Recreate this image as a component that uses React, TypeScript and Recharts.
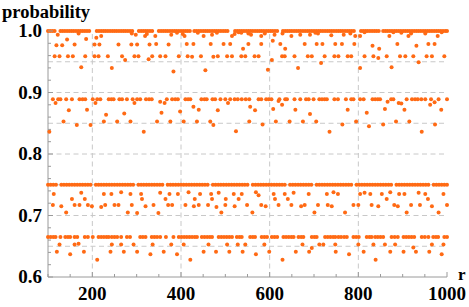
import { ScatterChart, Scatter, XAxis, YAxis, ReferenceLine } from 'recharts';

const ORANGE = '#ff6a14';
const AXIS = '#9a9a9a';
const GRID = '#c8c8c8';
const FONT = '"Liberation Serif", "Times New Roman", serif';

// r values of the dense rows
const rowOne = [100, 105, 110, 115, 128, 133, 138, 143, 148, 153, 158, 163, 168, 173, 178, 183, 188, 193, 210, 215, 220, 225, 230, 235, 240, 245, 250, 255, 260, 265, 270, 275, 280, 285, 290, 305, 310, 315, 320, 325, 330, 335, 350, 355, 360, 365, 370, 375, 380, 385, 390, 395, 400, 405, 410, 415, 420, 430, 435, 440, 445, 450, 455, 460, 465, 470, 475, 480, 485, 490, 495, 500, 505, 522, 527, 532, 537, 542, 547, 552, 557, 562, 567, 572, 577, 582, 587, 592, 597, 602, 607, 612, 617, 630, 635, 640, 645, 650, 655, 660, 665, 670, 675, 680, 685, 690, 695, 700, 705, 710, 715, 720, 725, 730, 735, 740, 745, 750, 755, 760, 765, 770, 775, 780, 785, 790, 806, 811, 816, 821, 826, 831, 836, 841, 846, 856, 861, 866, 871, 876, 881, 886, 891, 896, 901, 906, 911, 916, 921, 926, 931, 936, 941, 946, 951, 956, 961, 966, 971, 976, 981, 986, 991, 996, 1000];

const rowEightNinths = [111, 123, 128, 141, 154, 171, 178, 184, 201, 211, 218, 237, 243, 248, 261, 267, 278, 291, 301, 308, 321, 328, 334, 368, 380, 387, 393, 410, 416, 421, 446, 453, 458, 471, 477, 489, 500, 511, 521, 528, 537, 546, 554, 575, 581, 592, 598, 604, 622, 635, 639, 656, 669, 682, 688, 699, 712, 718, 724, 729, 746, 754, 772, 784, 789, 804, 812, 832, 838, 844, 849, 874, 879, 909, 921, 928, 934, 942, 951, 964, 981, 1000];

const rowThreeQuarters = [100, 106, 112, 118, 130, 136, 142, 148, 154, 160, 166, 172, 178, 184, 190, 196, 208, 214, 220, 226, 232, 238, 244, 250, 256, 262, 268, 274, 280, 286, 292, 304, 310, 316, 322, 328, 334, 340, 346, 352, 358, 370, 376, 382, 388, 394, 400, 406, 412, 418, 424, 430, 436, 442, 448, 454, 460, 472, 478, 484, 490, 496, 502, 508, 514, 520, 526, 532, 538, 544, 550, 562, 568, 574, 580, 586, 592, 598, 604, 610, 616, 622, 628, 634, 646, 652, 658, 664, 670, 676, 682, 688, 694, 706, 712, 718, 724, 730, 736, 742, 748, 754, 760, 766, 772, 778, 784, 796, 802, 808, 814, 820, 826, 832, 838, 844, 850, 856, 862, 868, 874, 886, 892, 898, 904, 910, 916, 922, 928, 934, 940, 946, 952, 958, 970, 976, 982, 988, 994, 1000];

const rowTwoThirds = [100, 106, 112, 117, 128, 139, 145, 150, 160, 166, 183, 190, 201, 214, 220, 226, 232, 237, 244, 250, 256, 265, 278, 285, 308, 314, 320, 334, 340, 346, 353, 366, 383, 395, 401, 407, 413, 419, 425, 431, 436, 447, 453, 459, 465, 470, 485, 491, 497, 503, 509, 515, 526, 532, 537, 556, 562, 567, 582, 588, 594, 605, 611, 617, 631, 637, 643, 649, 654, 665, 671, 676, 695, 701, 706, 725, 731, 737, 743, 748, 755, 761, 768, 774, 789, 795, 801, 819, 825, 830, 838, 844, 850, 856, 875, 882, 889, 902, 908, 914, 920, 926, 943, 950, 958, 969, 975, 980, 994, 1000];

// scattered points [r, probability]
const bandOne: [number, number][] = [
  [122, 0.994], [169, 0.996], [209, 0.989], [220, 0.992], [289, 0.996], [298, 0.994], [319, 0.992], [323, 0.995], [342, 0.992], [378, 0.994], [391, 0.997], [404, 0.995], [408, 0.992], [438, 0.997], [451, 0.992], [470, 0.994], [481, 0.997], [515, 0.992], [521, 0.995], [530, 0.998], [536, 0.997],
  [552, 0.996], [558, 0.994], [581, 0.992], [589, 0.996], [611, 0.994], [629, 0.996], [649, 0.992], [669, 0.994], [691, 0.994], [703, 0.997], [709, 0.996], [739, 0.993], [767, 0.994], [782, 0.996], [793, 0.992], [804, 0.992], [814, 0.998], [870, 0.992], [879, 0.998], [897, 0.997], [913, 0.992], [919, 0.996], [951, 0.996], [979, 0.992], [988, 0.998],
  [119, 0.977], [132, 0.977], [143, 0.986], [160, 0.978], [186, 0.987], [205, 0.978], [216, 0.978], [259, 0.978], [288, 0.978], [301, 0.978], [329, 0.978], [344, 0.979], [372, 0.978], [413, 0.979], [428, 0.979], [467, 0.979], [496, 0.979], [511, 0.979], [540, 0.971], [552, 0.979],
  [581, 0.979], [607, 0.984], [624, 0.979], [635, 0.971], [679, 0.979], [706, 0.979], [719, 0.979], [748, 0.979], [763, 0.979], [791, 0.979], [832, 0.976], [847, 0.971], [888, 0.979], [931, 0.976], [958, 0.979], [972, 0.979],
  [115, 0.959], [126, 0.959], [145, 0.959], [156, 0.959], [184, 0.959], [205, 0.959], [214, 0.959], [235, 0.959], [267, 0.959], [274, 0.953], [295, 0.959], [304, 0.959], [327, 0.954], [335, 0.959], [353, 0.959], [365, 0.959], [395, 0.959], [415, 0.959], [425, 0.958], [445, 0.959], [473, 0.958], [483, 0.959], [504, 0.959], [515, 0.959], [536, 0.959], [545, 0.959],
  [566, 0.959], [575, 0.959], [605, 0.953], [628, 0.959], [634, 0.959], [656, 0.959], [686, 0.959], [695, 0.959], [724, 0.959], [746, 0.959], [755, 0.959], [776, 0.959], [784, 0.959], [814, 0.959], [834, 0.959], [845, 0.956], [864, 0.959], [894, 0.959], [906, 0.959], [924, 0.959], [936, 0.949], [954, 0.959], [966, 0.959], [994, 0.959],
  [175, 0.941], [244, 0.94], [383, 0.934], [455, 0.936], [596, 0.937], [664, 0.94], [716, 0.948], [804, 0.94], [875, 0.941],
];

const bandTwo: [number, number][] = [
  [117, 0.883], [207, 0.883], [295, 0.883], [353, 0.885], [363, 0.883], [506, 0.883], [556, 0.877], [620, 0.886], [866, 0.885], [891, 0.883], [897, 0.882], [962, 0.88], [972, 0.884],
  [147, 0.871], [188, 0.872], [231, 0.864], [272, 0.866], [356, 0.867], [398, 0.869], [428, 0.877], [440, 0.872], [483, 0.871], [567, 0.871], [608, 0.873], [628, 0.88], [658, 0.872], [691, 0.865], [776, 0.872], [819, 0.867], [860, 0.873], [904, 0.872], [987, 0.872],
  [135, 0.853], [226, 0.853], [256, 0.853], [286, 0.853], [346, 0.853], [376, 0.853], [406, 0.853], [436, 0.853], [466, 0.853], [554, 0.853], [614, 0.853], [645, 0.853], [675, 0.853], [705, 0.853], [795, 0.853], [885, 0.853], [915, 0.853],
  [165, 0.847], [196, 0.847], [473, 0.847], [584, 0.848], [764, 0.848], [824, 0.845], [856, 0.848], [973, 0.848],
  [103, 0.836], [316, 0.836], [524, 0.837], [735, 0.836], [943, 0.836],
];

const bandThree: [number, number][] = [
  [113, 0.735], [175, 0.737], [226, 0.735], [243, 0.735], [265, 0.738], [286, 0.735], [310, 0.735], [353, 0.737], [374, 0.735], [393, 0.735], [417, 0.738], [443, 0.735], [468, 0.735], [485, 0.737], [519, 0.735], [537, 0.735], [569, 0.738], [575, 0.733], [609, 0.735], [634, 0.735], [654, 0.737], [688, 0.735], [729, 0.735], [744, 0.738], [754, 0.735], [804, 0.735], [814, 0.737], [827, 0.735], [853, 0.735], [872, 0.738], [892, 0.735], [904, 0.735], [936, 0.737], [951, 0.735], [992, 0.735],
  [154, 0.727], [183, 0.727], [312, 0.727], [365, 0.727], [431, 0.727], [470, 0.727], [501, 0.727], [530, 0.727], [612, 0.727], [641, 0.727], [864, 0.727], [957, 0.727],
  [111, 0.717], [130, 0.715], [160, 0.717], [171, 0.717], [190, 0.717], [199, 0.715], [220, 0.714], [229, 0.717], [250, 0.717], [259, 0.717], [289, 0.717], [320, 0.715], [338, 0.717], [371, 0.717], [380, 0.717], [410, 0.717], [429, 0.715], [440, 0.717], [461, 0.717], [480, 0.714], [500, 0.717], [521, 0.715], [549, 0.717], [581, 0.717], [591, 0.715], [620, 0.717], [649, 0.717], [671, 0.715], [679, 0.717], [709, 0.717], [731, 0.717], [740, 0.715], [789, 0.717], [800, 0.717], [830, 0.717], [845, 0.715], [881, 0.717], [889, 0.715], [919, 0.717], [939, 0.717], [966, 0.715], [1000, 0.717],
  [141, 0.705], [280, 0.705], [301, 0.704], [349, 0.704], [491, 0.705], [561, 0.705], [701, 0.705], [770, 0.705], [909, 0.705], [981, 0.705],
];

const bandFour: [number, number][] = [
  [126, 0.653], [160, 0.653], [169, 0.654], [244, 0.653], [265, 0.653], [293, 0.653], [336, 0.653], [378, 0.653], [406, 0.653], [462, 0.653], [504, 0.653], [528, 0.653], [545, 0.653], [588, 0.653], [674, 0.653], [712, 0.653], [721, 0.653], [748, 0.653], [800, 0.653], [834, 0.653], [860, 0.653], [883, 0.653], [924, 0.648], [966, 0.653], [992, 0.653],
  [120, 0.641], [181, 0.641], [241, 0.641], [271, 0.641], [301, 0.641], [361, 0.641], [451, 0.641], [479, 0.641], [509, 0.641], [539, 0.641], [599, 0.641], [659, 0.641], [689, 0.641], [749, 0.641], [812, 0.641], [872, 0.641], [902, 0.641], [930, 0.641], [960, 0.641],
  [150, 0.637], [331, 0.637], [391, 0.637], [569, 0.637], [779, 0.637], [988, 0.637],
  [211, 0.628], [421, 0.628], [629, 0.628], [839, 0.628], [695, 0.647],
];

const xTicks = [100, 150, 200, 250, 300, 350, 400, 450, 500, 550, 600, 650, 700, 750, 800, 850, 900, 950, 1000];
const xLabels = [200, 400, 600, 800, 1000];
const yTicks = [0.6, 0.62, 0.64, 0.66, 0.68, 0.7, 0.72, 0.74, 0.76, 0.78, 0.8, 0.82, 0.84, 0.86, 0.88, 0.9, 0.92, 0.94, 0.96, 0.98, 1.0];
const yLabels = ['0.6', '0.7', '0.8', '0.9', '1.0'];
const xGrid = [200, 400, 600, 800];
const yGrid = [0.65, 0.7, 0.75, 0.8, 0.85, 0.9, 0.95];

const points = [
  ...rowOne.map((r) => ({ r, p: 1.0 })),
  ...rowEightNinths.map((r) => ({ r, p: 0.889 })),
  ...rowThreeQuarters.map((r) => ({ r, p: 0.75 })),
  ...rowTwoThirds.map((r) => ({ r, p: 0.665 })),
  ...[...bandOne, ...bandTwo, ...bandThree, ...bandFour].map(([r, p]) => ({ r, p })),
];

const XTick = (props: any) => {
  const { x, y, payload } = props;
  const major = xLabels.includes(payload.value);
  return (
    <g>
      <line x1={x} x2={x} y1={y} y2={y - (major ? 5 : 3)} stroke={AXIS} />
      {major && (
        <text x={x} y={y + 22.5} textAnchor="middle" fontFamily={FONT} fontWeight="bold" fontSize={19} fill="#000">
          {payload.value}
        </text>
      )}
    </g>
  );
};

const YTick = (props: any) => {
  const { x, y, payload } = props;
  const label = payload.value.toFixed(1);
  const major = yLabels.includes(label) && Math.abs(payload.value * 10 - Math.round(payload.value * 10)) < 1e-6;
  return (
    <g>
      <line x1={x} x2={x + (major ? 5 : 3)} y1={y} y2={y} stroke={AXIS} />
      {major && (
        <text x={x - 6} y={y + 6} textAnchor="end" fontFamily={FONT} fontWeight="bold" fontSize={19} fill="#000">
          {label}
        </text>
      )}
    </g>
  );
};

const Dot = (props: any) => <circle cx={props.cx} cy={props.cy} r={2} fill={ORANGE} />;

export default function App() {
  return (
    <div style={{ position: 'absolute', left: 0, top: 0, width: 469, height: 307, background: '#fff' }}>
      <ScatterChart width={469} height={307} margin={{ top: 31, right: 22, bottom: 0, left: 0 }}>
        <XAxis
          dataKey="r"
          type="number"
          domain={[100, 1000]}
          ticks={xTicks}
          interval={0}
          height={30}
          tickSize={0}
          tickMargin={0}
          tickLine={false}
          axisLine={{ stroke: AXIS }}
          tick={XTick}
        />
        <YAxis
          dataKey="p"
          type="number"
          domain={[0.6, 1]}
          ticks={yTicks}
          interval={0}
          width={48}
          tickSize={0}
          tickMargin={0}
          tickLine={false}
          axisLine={{ stroke: AXIS }}
          tick={YTick}
        />
        {yGrid.map((v) => (
          <ReferenceLine key={'y' + v} y={v} stroke={GRID} strokeDasharray="5 3.5" />
        ))}
        {xGrid.map((v) => (
          <ReferenceLine key={'x' + v} x={v} stroke={GRID} strokeDasharray="5 3.5" />
        ))}
        <Scatter data={points} shape={Dot} isAnimationActive={false} />
      </ScatterChart>
      <svg width={469} height={307} style={{ position: 'absolute', left: 0, top: 0, pointerEvents: 'none' }}>
        <text x={2} y={17.5} fontFamily={FONT} fontWeight="bold" fontSize={18.5} fill="#000">
          probability
        </text>
        <text x={458} y={280} fontFamily={FONT} fontWeight="bold" fontSize={17} fill="#000">
          r
        </text>
      </svg>
    </div>
  );
}
